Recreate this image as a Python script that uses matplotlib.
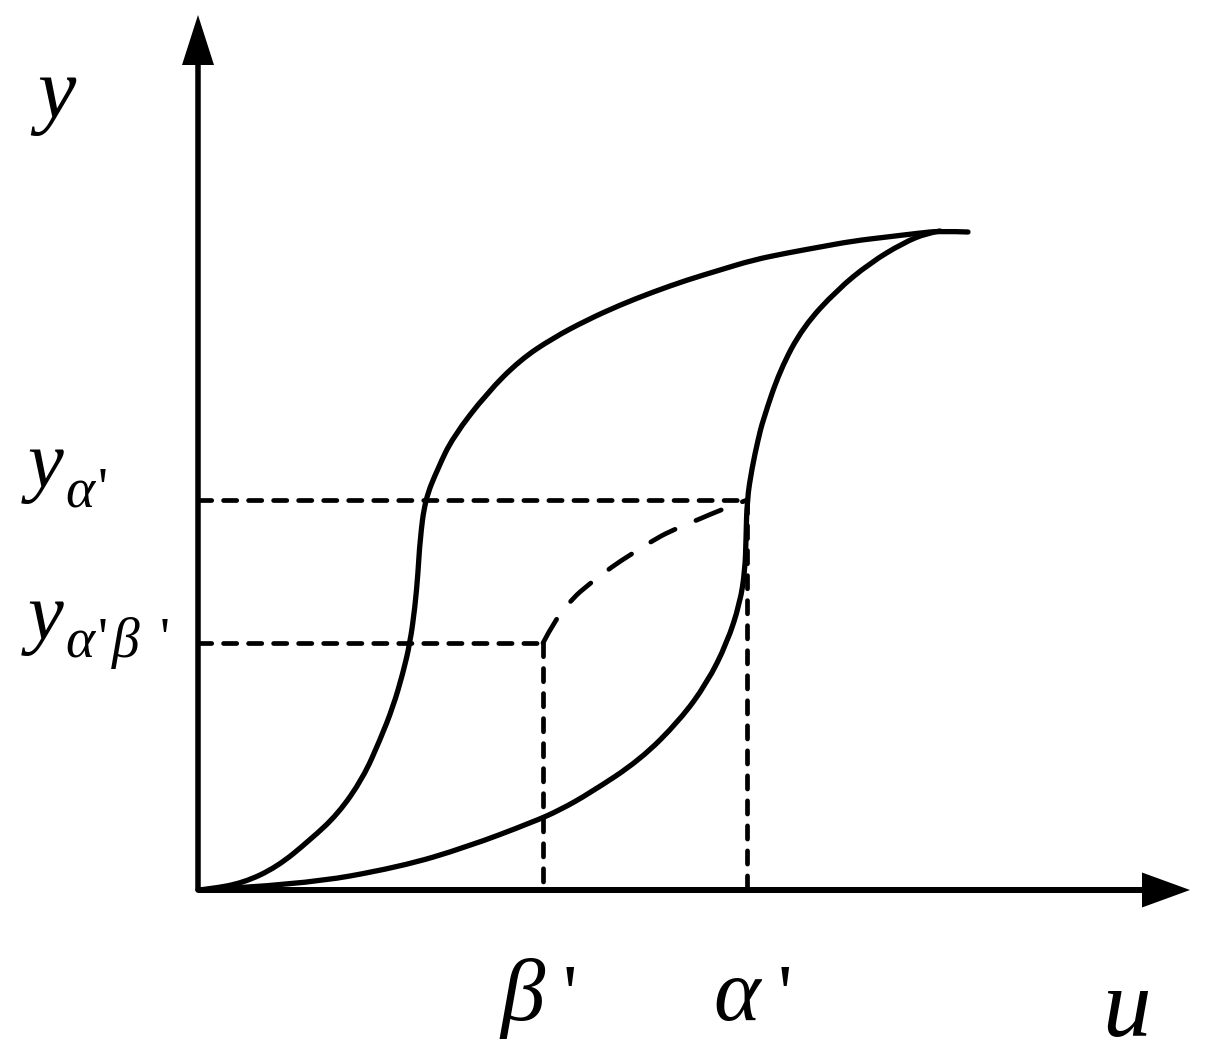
import matplotlib
matplotlib.use("Agg")
import matplotlib.pyplot as plt
from matplotlib.path import Path
from matplotlib.patches import PathPatch

# ---- data (u, y) in diagram units: origin at axis corner ----
upper_u = [0, 12, 45, 79, 112, 140, 165, 182, 195, 205, 212, 217, 220, 222, 227,
           240, 255, 289, 322, 355, 389, 422, 455, 489, 522, 555, 589, 622, 655,
           689, 722, 742, 770]
upper_y = [0, 1, 7, 23, 50, 76, 112, 150, 183, 217, 247, 283, 317, 350, 390,
           422, 453, 497, 530, 552, 570, 585, 598, 610, 620, 630, 637, 643, 649,
           653, 657, 659, 658]

lower_u = [0, 102, 202, 269, 335, 362, 392, 442, 482, 509, 529, 542, 547, 548,
           549, 554, 560, 565, 582, 605, 639, 672, 705, 729, 742]
lower_y = [0, 5, 23, 43, 68, 80, 97, 130, 170, 207, 247, 287, 320, 350,
           390, 422, 450, 470, 520, 563, 600, 627, 647, 657, 659]

inner_u = [345, 357, 375, 390, 415, 432, 459, 475, 504, 520, 549]
inner_y = [247, 270, 292, 305, 324, 335, 352, 360, 372, 379, 390]

alpha_u, alpha_y = 549, 390     # (alpha', y_alpha')
beta_u, beta_y = 345, 247       # (beta', y_alpha'beta')

u_max, y_max = 992, 875

FONT = "Liberation Serif"


def smooth_path(us, ys):
    pts = list(zip(us, ys))
    verts = [pts[0]]
    codes = [Path.MOVETO]
    for i in range(1, len(pts) - 1):
        mid = ((pts[i][0] + pts[i + 1][0]) / 2, (pts[i][1] + pts[i + 1][1]) / 2)
        end = mid if i < len(pts) - 2 else pts[-1]
        verts += [pts[i], end]
        codes += [Path.CURVE3, Path.CURVE3]
    return Path(verts, codes)


fig = plt.figure(figsize=(12.06, 10.60), dpi=100)
ax = fig.add_axes([0, 0, 1, 1])
ax.set_xlim(-198, 1008)
ax.set_ylim(-170, 890)
ax.axis("off")

# axes with arrows
ax.arrow(0, 0, 0, y_max, width=5.5, head_width=32, head_length=50,
         length_includes_head=True, color="k", lw=0)
ax.arrow(0, 0, u_max, 0, width=6, head_width=35, head_length=48,
         length_includes_head=True, color="k", lw=0)

for us, ys in ((upper_u, upper_y), (lower_u, lower_y)):
    ax.add_patch(PathPatch(smooth_path(us, ys), fill=False, edgecolor="k",
                           lw=3.8, capstyle="round", joinstyle="round"))

dash = dict(color="k", lw=3.4, dash_capstyle="round",
            linestyle=(0, (2.8, 2.5)))
ax.plot([0, alpha_u], [alpha_y, alpha_y], **dash)
ax.plot([alpha_u, alpha_u], [alpha_y, 0], **dash)
ax.plot([0, beta_u], [beta_y, beta_y], **dash)
ax.plot([beta_u, beta_u], [beta_y, 0], **dash)
ax.add_patch(PathPatch(smooth_path(inner_u, inner_y), fill=False, edgecolor="k",
                       lw=3.4, capstyle="round", linestyle=(0, (5.8, 4.8))))

it = dict(family=FONT, style="italic", color="k", va="baseline", ha="left")
up = dict(family=FONT, style="normal", color="k", va="baseline", ha="left")

# axis names
ax.text(-161, 773, "y", fontsize=62, **it)
ax.text(904, -146, "u", fontsize=70, **it)

# x tick labels
ax.text(beta_u - 43, -130, "\u03b2", fontsize=64, **it)
ax.text(beta_u + 20, -130, "'", fontsize=58, **up)
ax.text(alpha_u - 34, -130, "\u03b1", fontsize=64, **it)
ax.text(alpha_u + 31, -130, "'", fontsize=58, **up)

# y tick labels
ax.text(-170, alpha_y + 13, "y", fontsize=58, **it)
ax.text(-133, alpha_y - 7, "\u03b1", fontsize=40, **it)
ax.text(-100, alpha_y - 7, "'", fontsize=40, **up)

ax.text(-170, beta_y + 4, "y", fontsize=58, **it)
ax.text(-133, beta_y - 14, "\u03b1", fontsize=40, **it)
ax.text(-100, beta_y - 14, "'", fontsize=40, **up)
ax.text(-86, beta_y - 14, "\u03b2", fontsize=40, **it)
ax.text(-38, beta_y - 14, "'", fontsize=40, **up)

fig.savefig("out.png", dpi=100, facecolor="white")
